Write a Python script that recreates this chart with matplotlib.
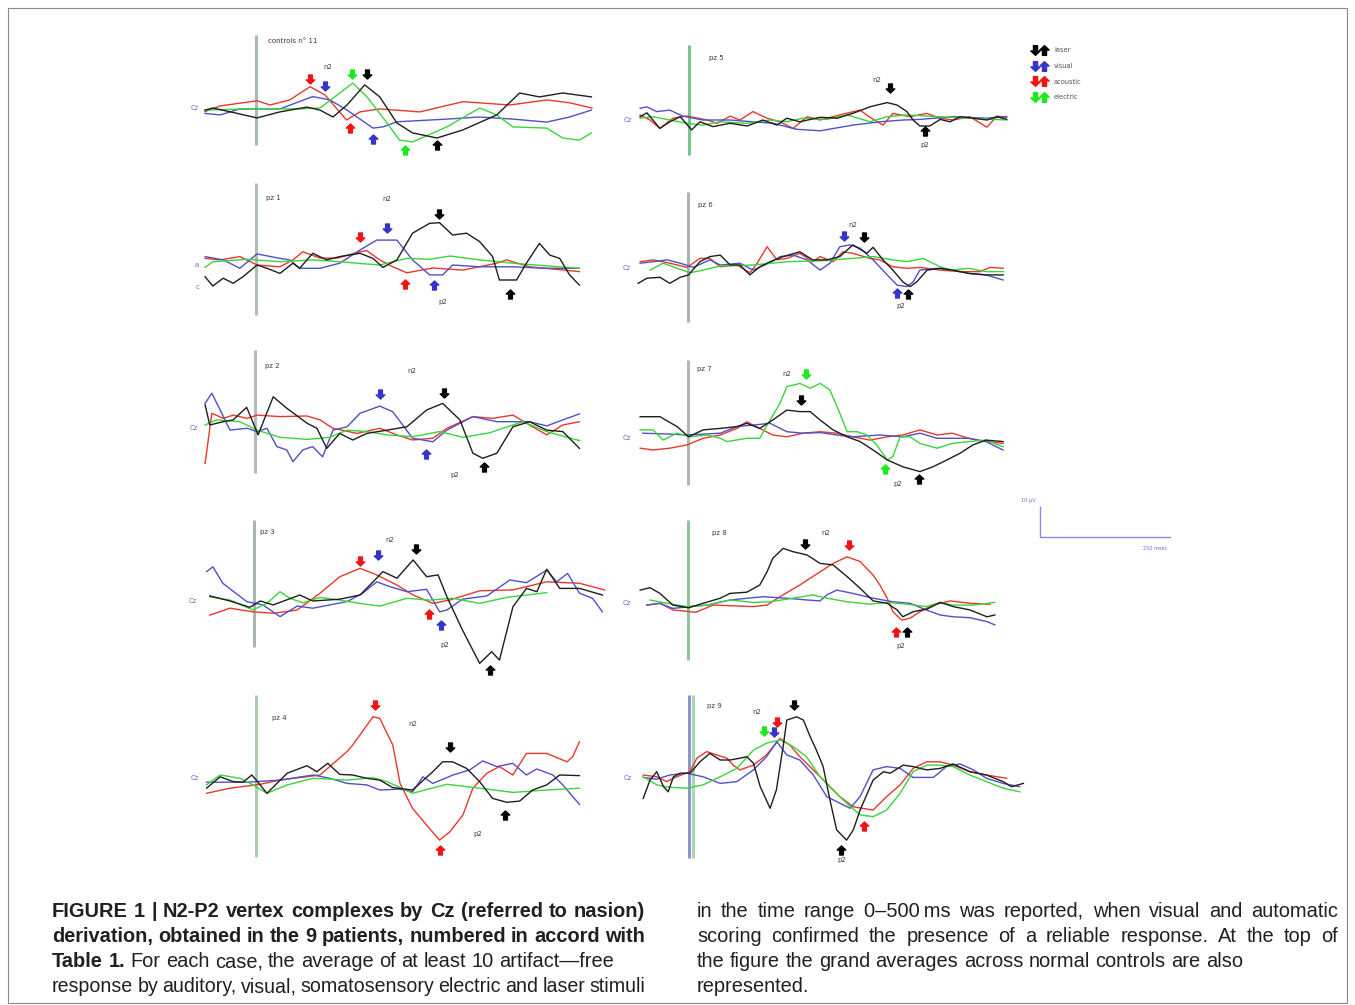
import matplotlib
matplotlib.use('Agg')
import matplotlib.pyplot as plt
from matplotlib.path import Path
from matplotlib.lines import Line2D
from matplotlib.legend_handler import HandlerTuple

# ---------------- data: (time ms, amplitude uV) ----------------
controls_red = [(-98,-1.2),(-69,0.7),(2,2.4),(27,1),(65,2.7),(104,7.1),(133,4.3),(174,-4),(200,-1.3),(238,-0.3),(315,-1.3),(398,2.1),(488,1),(560,2.7),(604,1.7),(646,0)]
controls_blue = [(-98,-1.8),(-69,-2.3),(-31,-0.3),(46,-0.3),(109,3.8),(142,2.7),(175,-0.7),(225,-6.7),(244,-6.3),(271,-4.6),(367,-3.7),(430,-3),(494,-3.7),(559,-4.7),(603,-3),(645,-0.7)]
controls_green = [(-98,-0.7),(-17,-0.3),(84,-0.3),(123,0),(156,4.3),(186,8.3),(213,3.8),(252,-5),(276,-10.7),(301,-11.3),(367,-6.3),(430,0),(463,-2.3),(494,-6.3),(559,-6.7),(590,-10),(622,-10.7),(645,-8.3)]
controls_black = [(-98,-0.7),(-83,0),(-31,-2),(2,-3.3),(46,-1.3),(98,0.3),(123,-0.7),(148,-3),(175,1),(209,7.7),(238,3.7),(271,-5),(301,-8.3),(348,-10),(398,-7.3),(463,-2.3),(507,5),(545,3.7),(590,5),(645,3.7)]

pz1_red = [(-98,2.2),(-69,1.7),(-31,2.8),(2,0),(46,-0.6),(71,1.7),(90,4.4),(123,2.3),(156,2.3),(200,4.4),(213,4.8),(238,1.7),(263,-0.6),(290,-2.6),(340,-1),(398,-1.7),(463,0.6),(482,1.7),(526,-0.6),(622,-2.2)]
pz1_blue = [(-98,2.8),(-63,1.7),(-31,-1.1),(2,3.7),(46,2.2),(65,1.7),(84,-1.1),(123,-1.1),(161,0.6),(200,5),(232,8.3),(271,8.3),(301,1.7),(334,-3.3),(359,-3.3),(378,0),(430,-0.6),(494,-0.6),(559,-1.1),(622,-1.1)]
pz1_green = [(-98,-0.8),(-83,1.1),(-17,1.9),(46,1.1),(109,1.7),(161,1.1),(194,0.6),(238,0),(290,2.2),(334,1.9),(373,3),(430,1.7),(494,0.6),(559,-0.3),(622,-1.1)]
pz1_black = [(-98,-3.9),(-83,-7),(-63,-4.4),(-44,-6.1),(-25,-3.9),(2,0),(21,-1.1),(46,-2.8),(71,0.6),(84,-1.1),(109,3.9),(136,1.7),(161,2.8),(200,3.9),(225,2.2),(244,-0.8),(271,1.7),(301,10.6),(334,13.9),(353,14.1),(378,10),(405,10.6),(430,7.8),(455,2.8),(468,-5),(501,-5),(520,0.6),(545,7.2),(565,3.3),(584,2.2),(603,-3.3),(622,-6.7)]

pz2_red = [(-96,-11.8),(-83,4.9),(-61,3.2),(-42,4.3),(-15,3.2),(4,4.3),(48,3.8),(100,4),(125,2.7),(150,-0.1),(196,-1.8),(240,-0.1),(273,-2.3),(303,-4),(342,-3.4),(369,-0.1),(419,3.8),(457,3.2),(496,4.3),(528,1),(561,-2.3),(592,1),(624,2.1)]
pz2_blue = [(-96,8.2),(-83,11.6),(-67,6),(-48,-0.7),(-15,-0.1),(4,-1.2),(23,-0.1),(42,-6.2),(61,-7.3),(73,-11.2),(92,-7.3),(111,-6.2),(130,-9.6),(150,-0.7),(177,0.4),(202,4.9),(240,7.3),(265,5.4),(303,-3.4),(342,-4.6),(369,-0.7),(419,3.8),(465,2.1),(528,2.1),(561,0.7),(592,2.7),(624,4.7)]
pz2_green = [(-96,1),(-74,2.7),(-29,2.1),(4,-0.7),(48,-3.1),(100,-3.8),(144,-3.1),(177,-0.7),(215,-1.2),(254,-2.3),(303,-2.9),(355,-1.2),(400,-3.1),(451,-1.6),(515,2.1),(561,-1.2),(624,-4.2)]
pz2_black = [(-96,7.7),(-87,1),(-61,2.1),(-42,2.7),(-16,6.9),(6,-2.3),(35,10.4),(61,6.6),(100,1.6),(119,-0.1),(138,-6.8),(163,-1.8),(188,-4),(215,-1.8),(254,-0.7),(292,0.4),(330,6),(361,8.2),(394,2.7),(419,-8.4),(438,-10.1),(465,-8.4),(496,0.4),(528,2.1),(561,-0.7),(592,-1.2),(624,-6.8)]

pz3_red = [(-85,-4.7),(-46,-2.4),(-2,-3.6),(37,-4.1),(83,-3),(127,2.6),(165,8.1),(204,10.9),(236,8.7),(275,5.3),(306,2),(344,-0.8),(376,0.3),(434,3.4),(498,3.7),(563,6.4),(626,5.9),(674,3.7)]
pz3_blue = [(-91,9.8),(-79,11.4),(-60,5.9),(-14,-0.2),(17,-1.3),(50,-5.2),(83,-1.7),(113,-2.4),(146,-1.3),(179,-0.2),(209,2.6),(236,6.4),(261,4.8),(294,3.1),(332,3.9),(357,-3.6),(371,-3),(401,0.6),(448,1.7),(492,7),(524,6.1),(563,10.3),(582,6.4),(603,9.2),(626,2.6),(651,0.9),(670,-3.6)]
pz3_green = [(-85,1.4),(-46,0.3),(-2,-3),(25,-0.8),(50,3.1),(69,0.9),(94,-0.6),(127,1.2),(165,0.3),(204,-0.8),(242,-1.7),(294,0.9),(338,0.3),(382,0.9),(434,-0.8),(486,1.2),(563,2.8)]
pz3_black = [(-85,1.7),(-46,0),(-8,-2.1),(12,0),(37,-1.3),(88,2),(113,0),(165,0.6),(204,2),(229,6.4),(248,9.8),(275,7.6),(306,13.7),(332,8.1),(354,8.7),(371,1.4),(401,-9.7),(434,-20.8),(457,-16.9),(472,-19.7),(498,-1.9),(524,4.2),(544,3.1),(563,10.6),(588,4.2),(626,4.2),(670,2)]

pz4_red = [(-95,-5.1),(-50,-3.4),(8,-2.1),(46,-0.7),(123,1),(175,8.8),(186,11),(225,20.4),(238,19.9),(263,11),(277,-1.8),(301,-10.1),(328,-15.7),(353,-20.7),(373,-17.9),(398,-12.3),(417,-3.4),(444,1.6),(468,3.8),(494,1),(520,8.2),(559,8.2),(598,5.4),(609,7.1),(622,12.1)]
pz4_blue = [(-95,-1.4),(-17,-1.4),(46,-0.7),(110,1),(142,-0.1),(175,-1.8),(213,-2.3),(238,-4),(277,-3.7),(301,-4.6),(321,0.4),(340,-1.8),(379,1),(411,2.7),(436,5.7),(463,3.8),(494,4.9),(520,1),(540,3),(571,1),(590,-2.3),(622,-8.8)]
pz4_green = [(-95,-2.3),(-69,1),(-31,-0.1),(-6,-2.3),(21,-5.1),(60,-2.3),(110,-0.1),(175,-0.7),(225,0.1),(252,-1.2),(301,-5.1),(367,-2.1),(430,-3.4),(494,-4.8),(559,-4),(622,-3.4)]
pz4_black = [(-95,-3.4),(-69,0.4),(-44,-1.2),(-25,-1.4),(-8,1),(2,-1),(21,-5.1),(60,1.6),(98,4.1),(117,2.1),(138,4.9),(161,1.2),(186,1),(213,-0.1),(238,-0.7),(263,-3.2),(301,-4),(340,2.1),(359,5.4),(378,5.4),(405,3.2),(430,-1.2),(455,-6.8),(482,-8.1),(507,-7.7),(532,-4),(559,-2.3),(584,1),(622,0.8)]

pz5_red = [(-94,1.7),(-75,0),(-56,-2.8),(-31,0.6),(-4,1.3),(35,0),(54,-1.1),(79,1.3),(98,0),(123,2.8),(150,0.6),(175,-0.6),(200,-2.8),(227,1.1),(252,0),(290,1.7),(329,3.3),(348,0.9),(373,-1.7),(392,2.2),(425,1.1),(457,2.2),(483,0.6),(508,0),(540,1.1),(573,-2.4),(592,1.3),(611,0.9)]
pz5_blue = [(-94,3.9),(-81,4.4),(-62,2.8),(-37,3.3),(-12,1.3),(27,0),(79,0),(123,-0.6),(162,-1.1),(207,-3.1),(252,-3.6),(315,-1.7),(367,-0.6),(412,0),(444,0.2),(508,1.1),(573,0.6),(611,1.1)]
pz5_green = [(-94,0.6),(-69,1.1),(-37,0),(-4,-1.1),(27,-1.7),(60,-0.6),(112,-1.1),(156,0),(188,-0.6),(219,0.6),(265,0.2),(304,1.7),(348,-0.6),(381,1.1),(419,1.7),(477,1.1),(540,0.6),(611,0)]
pz5_black = [(-94,1.1),(-81,2.4),(-56,-2.8),(-37,-0.6),(-17,1.1),(5,-3.3),(21,-0.6),(46,-2.2),(79,-1.1),(112,-2),(142,0),(169,-1.7),(188,0.6),(213,-0.6),(252,0.9),(285,0.6),(315,2.2),(348,4.4),(381,5.8),(400,5),(419,2.8),(431,0),(444,-2),(463,-2),(483,0.2),(502,-0.6),(521,1.1),(546,0.6),(573,0),(592,1.1),(611,0.2)]

pz6_red = [(-92,2.1),(-67,2.7),(-35,1.6),(-2,0.2),(23,3.2),(42,3.2),(62,0.4),(94,1),(119,-1.6),(133,1.6),(152,7.1),(171,2.7),(190,3.2),(215,4.9),(240,2.1),(254,3.8),(279,2.1),(298,5.4),(317,4.9),(350,3.2),(369,2.7),(394,0.4),(421,-0.1),(446,0.2),(485,-0.7),(523,-1.2),(561,-1.2),(581,0.2),(606,-0.1)]
pz6_blue = [(-92,1.6),(-67,2.1),(-40,2.7),(-15,1.6),(10,0.2),(42,2.7),(62,1),(100,1.6),(125,-0.7),(158,1.8),(177,3.8),(202,4.3),(229,2.7),(254,-0.7),(273,1.6),(292,7.1),(312,7.7),(331,6.6),(356,2.7),(383,-2.3),(402,-5.7),(421,-6.2),(433,-4.6),(446,-0.7),(479,-0.1),(508,-0.7),(540,-1.8),(573,-2.3),(606,-4)]
pz6_green = [(-73,-0.7),(-48,1.6),(-21,-0.1),(4,-1.6),(29,-0.7),(62,0.7),(125,1),(190,2.1),(254,2.4),(317,3.2),(356,3.8),(394,2.7),(421,2.1),(452,3.2),(485,0.4),(508,-0.7),(540,-0.1),(573,-1.2),(606,-1.2)]
pz6_black = [(-96,-5.1),(-79,-3.4),(-54,-3.1),(-35,-5.1),(-15,-3.1),(1,-2.3),(23,2.1),(42,3.8),(62,4.3),(81,1),(100,1),(119,-2.3),(138,0.4),(158,2.1),(183,3.8),(215,5.4),(240,2.7),(267,2.7),(292,3.8),(317,7.7),(344,4.9),(356,6.9),(375,2.7),(394,-0.7),(413,-4.6),(427,-6.2),(440,-4.6),(460,-0.7),(485,-0.1),(508,-0.7),(540,-1.8),(573,-2.3),(606,-2.3)]

pz7_red = [(-92,-3.4),(-67,-4),(-35,-3.4),(-2,-2.3),(29,-0.1),(62,1),(94,3.2),(113,5.4),(138,3.2),(163,1),(190,0.4),(221,1.6),(254,2.1),(286,1.6),(317,0.4),(350,-0.7),(383,0.4),(413,1),(446,2.7),(479,1),(508,1.6),(540,-0.1),(573,-1.2),(606,-1.8)]
pz7_blue = [(-87,1.6),(-35,1.3),(-2,1),(62,1.6),(94,3.8),(125,4.3),(158,4.9),(190,2.1),(221,1.6),(254,1.8),(286,1),(317,0.4),(369,1),(413,0.4),(446,1.6),(479,-0.1),(508,-0.1),(540,-0.1),(573,-1.2),(606,-4)]
pz7_green = [(-92,2.7),(-67,2.7),(-48,-0.7),(-21,1.6),(4,0.4),(37,1),(62,-0.1),(75,-1.2),(113,-0.1),(138,-0.1),(152,4.3),(177,11.6),(190,17.1),(215,18.2),(235,16.6),(254,18.2),(273,16),(292,8.2),(306,2.1),(325,2.1),(344,1),(363,-2.3),(383,-7.3),(394,-6.2),(408,0.4),(427,0.4),(446,-1.8),(479,-3.4),(508,-1.8),(540,-1.2),(573,-0.7),(606,-2.9)]
pz7_black = [(-92,7.1),(-54,7.1),(-21,3.8),(1,0.4),(29,2.7),(62,3.2),(94,3.8),(113,4.9),(138,3.2),(163,6),(190,9.3),(215,8.8),(235,8.8),(254,6),(279,2.7),(306,0.4),(331,-1.2),(356,-4),(383,-7.3),(413,-9.6),(446,-11.2),(471,-9.6),(498,-7.3),(523,-5.1),(548,-2.3),(573,-0.7),(606,-1.2)]

pz8_red = [(-79,-0.7),(-54,-0.1),(-29,-2.3),(15,-3.1),(48,-0.7),(81,-0.9),(125,-1.2),(152,-0.7),(177,2.1),(215,6),(254,10.4),(279,13.2),(306,15.4),(331,13.8),(356,9.3),(369,6),(383,1.6),(394,-2.9),(411,-5.7),(427,-5.1),(446,-2.9),(471,-0.7),(504,0.7),(542,-0.1),(581,-0.4)]
pz8_blue = [(-79,-0.7),(-54,-0.1),(-29,-1.8),(4,-1.2),(37,-0.7),(81,1),(144,2.1),(190,1.6),(229,1),(254,0.7),(267,2.7),(286,4.3),(317,3.2),(356,1.6),(394,0.4),(427,-0.1),(458,-2.3),(485,-4),(510,-4.6),(542,-4.9),(575,-6.2),(590,-7.3)]
pz8_green = [(-73,1),(-40,-0.1),(-2,-1.2),(37,-0.7),(81,1),(125,0.2),(158,0.4),(202,1.6),(240,2.7),(267,1.6),(306,0.4),(350,-0.4),(383,0.2),(421,-0.4),(458,-1.2),(485,0.2),(510,-0.7),(548,-0.7),(590,0.2)]
pz8_black = [(-92,4.3),(-73,5.1),(-54,3.2),(-29,-0.7),(1,-1.6),(29,-0.1),(62,1.6),(81,3.2),(113,3.6),(138,6),(152,10.4),(163,14.9),(183,18.2),(202,17.1),(229,16),(254,13.2),(279,12.7),(306,8.8),(331,4.9),(356,0.7),(383,-0.1),(402,-2.3),(413,-4.6),(433,-2.9),(460,-2),(485,0.2),(510,-1.2),(542,-2.3),(575,-4.6),(590,-4)]

pz9_red = [(-88,1),(-62,0.4),(-43,-1.2),(-24,0.4),(2,2.1),(15,6.6),(34,8.8),(53,7.7),(73,6.6),(85,4.3),(98,2.7),(124,4.3),(149,7.7),(175,13.2),(194,11),(213,7.1),(239,2.7),(265,-1.8),(290,-6.2),(316,-9.6),(354,-10.7),(380,-6.2),(406,-2.3),(431,3.2),(457,5.4),(483,5.4),(508,4.3),(540,2.1),(572,1),(611,-0.1)]
pz9_blue = [(-88,0.2),(-62,-0.4),(-37,1),(-4,1.6),(27,0.4),(60,-1.8),(92,-1.2),(124,2.7),(149,7.1),(169,12.1),(188,7.7),(213,6),(239,1),(265,-6.2),(290,-8.4),(310,-10.1),(329,-6.2),(354,2.7),(380,3.8),(406,3.2),(431,0.2),(470,0.2),(495,3.8),(521,4.7),(547,2.7),(572,-0.1),(604,-1.8),(636,-2.9)]
pz9_green = [(-88,0.4),(-62,-2.3),(-37,-3.1),(-4,-3.4),(27,-2.3),(60,0.4),(92,3.2),(124,9.3),(149,11.6),(175,12.7),(201,10.4),(226,7.1),(252,0.4),(277,-4),(303,-8.4),(329,-12.3),(354,-12.9),(380,-10.7),(406,-5.1),(431,2.1),(457,4.3),(483,4.3),(508,3.8),(540,1),(572,-1.2),(604,-3.4),(636,-4.6)]
pz9_black = [(-88,-6.8),(-75,-0.7),(-62,2.1),(-49,-2.9),(-40,-4.6),(-30,0.4),(-17,1.6),(2,1.6),(21,5.4),(40,8.2),(60,6),(79,6),(98,6.6),(111,7.1),(124,4.9),(137,-2.9),(156,-10.1),(168,-4),(181,10.4),(188,19.3),(207,20.4),(220,19.3),(233,13.8),(245,9.3),(258,3.8),(271,-7.3),(284,-17.3),(303,-20.7),(316,-17.3),(329,-10.7),(354,-0.7),(374,2.1),(387,1.6),(412,4.3),(431,3.8),(457,2.7),(483,3.2),(508,4.7),(540,2.1),(572,1),(604,-1.2),(620,-2.9),(643,-1.8)]

# peak markers: (stimulus, component, ms, uV)
controls_peaks = [('acoustic','n2',104,9.7),('visual','n2',133,7.3),('electric','n2',184,11.3),('laser','n2',213,11.3),
                  ('acoustic','p2',180,-6.7),('visual','p2',225,-10.3),('electric','p2',286,-14),('laser','p2',348,-12.3)]
pz1_peaks = [('acoustic','n2',200,9.3),('visual','n2',252,12.3),('laser','n2',351,17),
             ('acoustic','p2',286,-6.3),('visual','p2',342,-6.7),('laser','p2',488,-9.7)]
pz2_peaks = [('visual','n2',240,11.3),('laser','n2',363,11.7),('visual','p2',328,-8.7),('laser','p2',440,-13)]
pz3_peaks = [('acoustic','n2',204,13.3),('visual','n2',238,15.3),('laser','n2',311,17.3),
             ('acoustic','p2',336,-4.3),('visual','p2',359,-8),('laser','p2',453,-23)]
pz4_peaks = [('acoustic','n2',229,24.3),('laser','n2',373,10.3),('acoustic','p2',353,-24),('laser','p2',478,-12.3)]
pz5_peaks = [('laser','n2',386,10.7),('laser','p2',454,-3.7)]
pz6_peaks = [('visual','n2',300,10.7),('laser','n2',338,10.3),('visual','p2',402,-8.3),('laser','p2',423,-8.7)]
pz7_peaks = [('electric','n2',227,21.3),('laser','n2',217,12.7),('electric','p2',379,-10.3),('laser','p2',444,-13.7)]
pz8_peaks = [('laser','n2',225,19.7),('acoustic','n2',310,19.3),('acoustic','p2',400,-9.7),('laser','p2',421,-9.7)]
pz9_peaks = [('laser','n2',202,24.3),('acoustic','n2',169,18.7),('visual','n2',163,15.3),('electric','n2',144,15.7),
             ('acoustic','p2',337,-16),('laser','p2',292,-24)]

panel_titles = ['controls n\u00b0 11','pz 1','pz 2','pz 3','pz 4','pz 5','pz 6','pz 7','pz 8','pz 9']
stimuli = ['laser','visual','acoustic','electric']
scale_uV = 10
scale_ms = 250

# ---------------- style / layout ----------------
W, H = 1355, 1005
PXMS, PXUV = 0.52, 3.0
line_col = {'laser':'#1e1e1e','visual':'#5050c8','acoustic':'#e8382e','electric':'#38d638'}
mark_col = {'laser':'#000000','visual':'#3434c8','acoustic':'#f01414','electric':'#1ee81e'}

traces = {
    'controls': (controls_red, controls_blue, controls_green, controls_black),
    'pz1': (pz1_red, pz1_blue, pz1_green, pz1_black),
    'pz2': (pz2_red, pz2_blue, pz2_green, pz2_black),
    'pz3': (pz3_red, pz3_blue, pz3_green, pz3_black),
    'pz4': (pz4_red, pz4_blue, pz4_green, pz4_black),
    'pz5': (pz5_red, pz5_blue, pz5_green, pz5_black),
    'pz6': (pz6_red, pz6_blue, pz6_green, pz6_black),
    'pz7': (pz7_red, pz7_blue, pz7_green, pz7_black),
    'pz8': (pz8_red, pz8_blue, pz8_green, pz8_black),
    'pz9': (pz9_red, pz9_blue, pz9_green, pz9_black),
}
peaks = {'controls':controls_peaks,'pz1':pz1_peaks,'pz2':pz2_peaks,'pz3':pz3_peaks,'pz4':pz4_peaks,
         'pz5':pz5_peaks,'pz6':pz6_peaks,'pz7':pz7_peaks,'pz8':pz8_peaks,'pz9':pz9_peaks}
keys = ['controls','pz1','pz2','pz3','pz4','pz5','pz6','pz7','pz8','pz9']

# layout: onset-line x px, baseline y px, onset line top/bottom (uV), onset colours
layout = {
    'controls': (256,108, 24.3,-12.3, ['#a8bcae']),
    'pz1': (256,265, 27.3,-16.7, ['#b0bcb6']),
    'pz2': (255,428, 26,-15, ['#b4bcb8']),
    'pz3': (254,601, 27,-15.3, ['#a9b7ad']),
    'pz4': (256,778, 27.7,-26.3, ['#a9cfb0']),
    'pz5': (689,120, 25,-11.7, ['#7cc48c']),
    'pz6': (688,268, 25.3,-18, ['#aab4b0']),
    'pz7': (688,438, 26,-15.7, ['#b0b8b4']),
    'pz8': (688,603, 27.7,-19, ['#90c49c']),
    'pz9': (689,778, 27.7,-26.7, ['#8c98cc','#a8d8b0']),
}
# annotation positions (ms, uV)
title_pos = {'controls':(23,22.3),'pz1':(19,22.3),'pz2':(19,20.7),'pz3':(12,23),'pz4':(31,20),
             'pz5':(38,20.7),'pz6':(19,21),'pz7':(17,23),'pz8':(46,23.3),'pz9':(35,24)}
n2_pos = {'controls':(138,13.7),'pz1':(252,22),'pz2':(301,19),'pz3':(261,20.3),'pz4':(301,18),
          'pz5':(361,13.3),'pz6':(317,14.3),'pz7':(190,21.3),'pz8':(265,23.3),'pz9':(131,22)}
p2_pos = {'pz1':(359,-12.3),'pz2':(384,-15.7),'pz3':(367,-14.7),'pz4':(427,-18.7),'pz5':(454,-8.3),
          'pz6':(410,-12.7),'pz7':(404,-15.3),'pz8':(410,-14.3),'pz9':(294,-27.3)}

XL = (-110, 720)
YL = (-30, 30)

up_arrow = Path([(0,1),(0.95,0.1),(0.42,0.1),(0.42,-1),(-0.42,-1),(-0.42,0.1),(-0.95,0.1),(0,1)],
                [Path.MOVETO]+[Path.LINETO]*6+[Path.CLOSEPOLY])
down_arrow = Path([(0,-1),(0.95,-0.1),(0.42,-0.1),(0.42,1),(-0.42,1),(-0.42,-0.1),(-0.95,-0.1),(0,-1)],
                  [Path.MOVETO]+[Path.LINETO]*6+[Path.CLOSEPOLY])

fig = plt.figure(figsize=(W/100, H/100), dpi=100)
fig.patch.set_facecolor('white')

small = dict(fontsize=5, color='#3a3a3a', family='DejaVu Sans')

for key, title in zip(keys, panel_titles):
    vx, by, otop, obot, ocols = layout[key]
    left = (vx + XL[0]*PXMS) / W
    width = (XL[1]-XL[0])*PXMS / W
    top_px = by - YL[1]*PXUV
    height = (YL[1]-YL[0])*PXUV / H
    bottom = 1 - (top_px/H) - height
    ax = fig.add_axes([left, bottom, width, height])
    ax.set_xlim(*XL); ax.set_ylim(*YL)
    ax.axis('off')
    for i, c in enumerate(ocols):
        ax.plot([i*7, i*7], [otop, obot], color=c, lw=2.2, solid_capstyle='butt', zorder=1)
    for stim, tr in zip(['acoustic','visual','electric','laser'], traces[key]):
        t = [p[0] for p in tr]; v = [p[1] for p in tr]
        ax.plot(t, v, color=line_col[stim], lw=1.0, zorder=3 if stim=='laser' else 2,
                solid_joinstyle='round')
    for stim, comp, t, v in peaks[key]:
        ax.plot([t], [v], marker=down_arrow if comp=='n2' else up_arrow, ms=6.5,
                color=mark_col[stim], mec=mark_col[stim], ls='none', zorder=4)
    ax.text(*title_pos[key], title, ha='left', va='center', **small)
    ax.text(*n2_pos[key], 'n2', ha='center', va='center', **small)
    if key in p2_pos:
        ax.text(*p2_pos[key], 'p2', ha='center', va='center', **small)
    if key == 'pz1':
        ax.text(-113, 0, 'a', ha='center', va='center', fontsize=5, color='#6a6ad0')
        ax.text(-113, -7.3, 'c', ha='center', va='center', fontsize=5, color='#6a6ad0')
    else:
        ax.text(-118, 0, 'Cz', ha='center', va='center', fontsize=5, color='#6a6ad0')

# scale bar axes (same ms / uV scale)
sx0, sy0 = 1040, 537
sxl, syl = (-40, 280), (-8, 16)
sax = fig.add_axes([(sx0 + sxl[0]*PXMS)/W, 1 - (sy0 - syl[0]*PXUV)/H,
                    (sxl[1]-sxl[0])*PXMS/W, (syl[1]-syl[0])*PXUV/H])
sax.set_xlim(*sxl); sax.set_ylim(*syl); sax.axis('off')
sax.plot([0, 0, scale_ms], [scale_uV, 0, 0], color='#8a8ae0', lw=1.0)
sax.text(-23, 12.3, f'{scale_uV} \u00b5V', fontsize=3.6, color='#7070d0', ha='center', va='center')
sax.text(221, -3.7, f'{scale_ms} msec', fontsize=3.6, color='#7070d0', ha='center', va='center')

# legend
handles = []
for s in stimuli:
    h1 = Line2D([], [], marker=down_arrow, ms=7, color=mark_col[s], ls='none')
    h2 = Line2D([], [], marker=up_arrow, ms=7, color=mark_col[s], ls='none')
    handles.append((h1, h2))
leg = fig.legend(handles, stimuli, handler_map={tuple: HandlerTuple(ndivide=None, pad=0.5)},
                 loc='upper left', bbox_to_anchor=(1028/W, 1-44/H), frameon=False,
                 fontsize=4.8, labelspacing=1.45, handlelength=2.4, handletextpad=1.0,
                 borderpad=0)
for t in leg.get_texts():
    t.set_color('#555555')

# outer border
fig.add_artist(plt.Rectangle((8/W, 1-1003/H), 1339/W, 995/H, transform=fig.transFigure,
                             fill=False, ec='#8a8a8a', lw=0.8))

# caption
CAP_FAM = ['Liberation Sans Narrow', 'Liberation Sans', 'DejaVu Sans']
renderer = fig.canvas.get_renderer()

def text_width(s, size, weight):
    t = fig.text(0, 0, s, fontsize=size, family=CAP_FAM, weight=weight)
    w = t.get_window_extent(renderer).width
    t.remove()
    return w

# base size: the unjustified line 'Table 1. For each case ...' spans about 565 px in the picture
probe = text_width('Table 1.', 10, 'bold') + text_width(' For each case, the average of at least 10 artifact\u2014free', 10, 'normal')
BASE_SIZE = 10 * 565 / probe

def words_of(segments):
    out = []
    for text, weight in segments:
        for w in text.split(' '):
            if w:
                out.append((w, weight))
    return out

def put_line(x0, x1, ybase, segments, justify):
    words = words_of(segments)
    size = BASE_SIZE
    # shrink a line only if it cannot fit its column with reasonable word gaps
    for _ in range(3):
        ws = [text_width(w, size, wt) for w, wt in words]
        sp = text_width('a a', size, 'normal') - text_width('aa', size, 'normal')
        natural = sum(ws) + 0.75 * sp * (len(words) - 1)
        if natural > (x1 - x0):
            size *= (x1 - x0) / natural
        else:
            break
    arts, widths = [], []
    for w, weight in words:
        t = fig.text(0, 1 - ybase/H, w, fontsize=size, family=CAP_FAM,
                     weight=weight, color='#231f20', va='baseline', ha='left')
        arts.append(t); widths.append(t.get_window_extent(renderer).width)
    space = text_width('a a', size, 'normal') - text_width('aa', size, 'normal')
    if justify and len(words) > 1:
        gap = (x1 - x0 - sum(widths)) / (len(words) - 1)
    else:
        gap = space
    x = x0
    for t, wd in zip(arts, widths):
        t.set_x(x / W)
        x += wd + gap

col1 = [
    ([('FIGURE 1 | N2-P2 vertex complexes by Cz (referred to nasion)', 'bold')], True),
    ([('derivation, obtained in the 9 patients, numbered in accord with', 'bold')], True),
    ([('Table 1.', 'bold'), (' For each case, the average of at least 10 artifact\u2014free', 'normal')], False),
    ([('response by auditory, visual, somatosensory electric and laser stimuli', 'normal')], True),
]
col2 = [
    ([('in the time range 0\u2013500\u2009ms was reported, when visual and automatic', 'normal')], True),
    ([('scoring confirmed the presence of a reliable response. At the top of', 'normal')], True),
    ([('the figure the grand averages across normal controls are also', 'normal')], False),
    ([('represented.', 'normal')], False),
]
ys = [917, 942, 967, 992]
for (segs, just), y in zip(col1, ys):
    put_line(52, 645, y, segs, just)
for (segs, just), y in zip(col2, ys):
    put_line(697, 1338, y, segs, just)

fig.savefig('out.png', dpi=100, facecolor='white')
